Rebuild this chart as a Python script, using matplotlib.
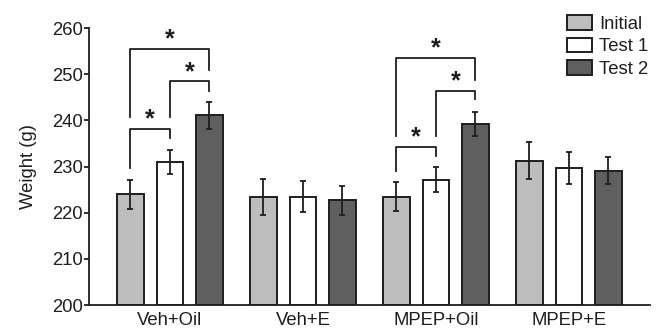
import numpy as np
import matplotlib.pyplot as plt

plt.rcParams['font.family'] = ['Liberation Sans', 'DejaVu Sans']

groups = ["Veh+Oil", "Veh+E", "MPEP+Oil", "MPEP+E"]
series = ["Initial", "Test 1", "Test 2"]
means = {
    "Initial": [224.0, 223.5, 223.5, 231.3],
    "Test 1": [230.9, 223.5, 227.1, 229.7],
    "Test 2": [241.1, 222.7, 239.3, 229.1],
}
sems = {
    "Initial": [3.1, 3.9, 3.1, 4.0],
    "Test 1": [2.6, 3.3, 2.7, 3.4],
    "Test 2": [2.9, 3.1, 2.6, 2.9],
}
colors = {"Initial": "#bdbdbd", "Test 1": "#ffffff", "Test 2": "#5f5f5f"}

# significance brackets: group, bar a, bar b, left leg end, top, right leg end, star y
brackets = [
    (0, 0, 1, 229.7, 238.2, 236.2, 240.2),
    (0, 1, 2, 240.7, 248.5, 246.4, 250.5),
    (0, 0, 2, 240.7, 255.4, 250.8, 257.6),
    (2, 0, 1, 229.1, 234.3, 232.3, 236.3),
    (2, 1, 2, 236.7, 246.4, 244.7, 248.4),
    (2, 0, 2, 236.7, 253.4, 248.7, 255.5),
]

ink = "#1e1e1e"
fs = 13.3
fig = plt.figure(figsize=(6.71, 3.34), dpi=100)
ax = fig.add_axes([0.1326, 0.0868, 0.8361, 0.8293])

x = np.arange(len(groups))
offset = 0.297
width = 0.2
for i, s in enumerate(series):
    xs = x + (i - 1) * offset
    ax.bar(xs, np.array(means[s]) - 200, width, bottom=200, color=colors[s],
           edgecolor=ink, linewidth=1.4, label=s, zorder=2)
    ax.errorbar(xs, means[s], yerr=sems[s], fmt="none", ecolor=ink,
                elinewidth=1.3, capsize=2.2, capthick=1.3, zorder=3)

for g, a, b, ya, ytop, yb, ystar in brackets:
    xa = g + (a - 1) * offset
    xb = g + (b - 1) * offset
    ax.plot([xa, xa, xb, xb], [ya, ytop, ytop, yb], color=ink, lw=1.3,
            clip_on=False, zorder=4)
    ax.text((xa + xb) / 2, ystar, "*", ha="center", va="center",
            fontsize=18, fontweight="bold", color=ink)

ax.set_xlim(-0.609, 3.61)
ax.set_ylim(200, 260)
ax.set_yticks(np.arange(200, 261, 10))
ax.set_xticks(x)
ax.set_xticklabels(groups)
ax.tick_params(axis="x", length=0, pad=5, labelsize=fs, labelcolor=ink)
ax.tick_params(axis="y", length=3.5, width=1.3, color=ink, labelsize=fs,
               labelcolor=ink, pad=1)
for sp in ["top", "right"]:
    ax.spines[sp].set_visible(False)
for sp in ["left", "bottom"]:
    ax.spines[sp].set_linewidth(1.3)
    ax.spines[sp].set_color(ink)
ax.set_ylabel("Weight (g)", fontsize=fs, color=ink, labelpad=11)

fig.legend(loc="upper left", bbox_to_anchor=(0.845, 0.955), frameon=False,
           fontsize=fs, handlelength=1.35, handleheight=0.87, labelspacing=0.25,
           handletextpad=0.38, borderpad=0, borderaxespad=0, labelcolor=ink)

plt.savefig("out.png", dpi=100)
plt.close()
